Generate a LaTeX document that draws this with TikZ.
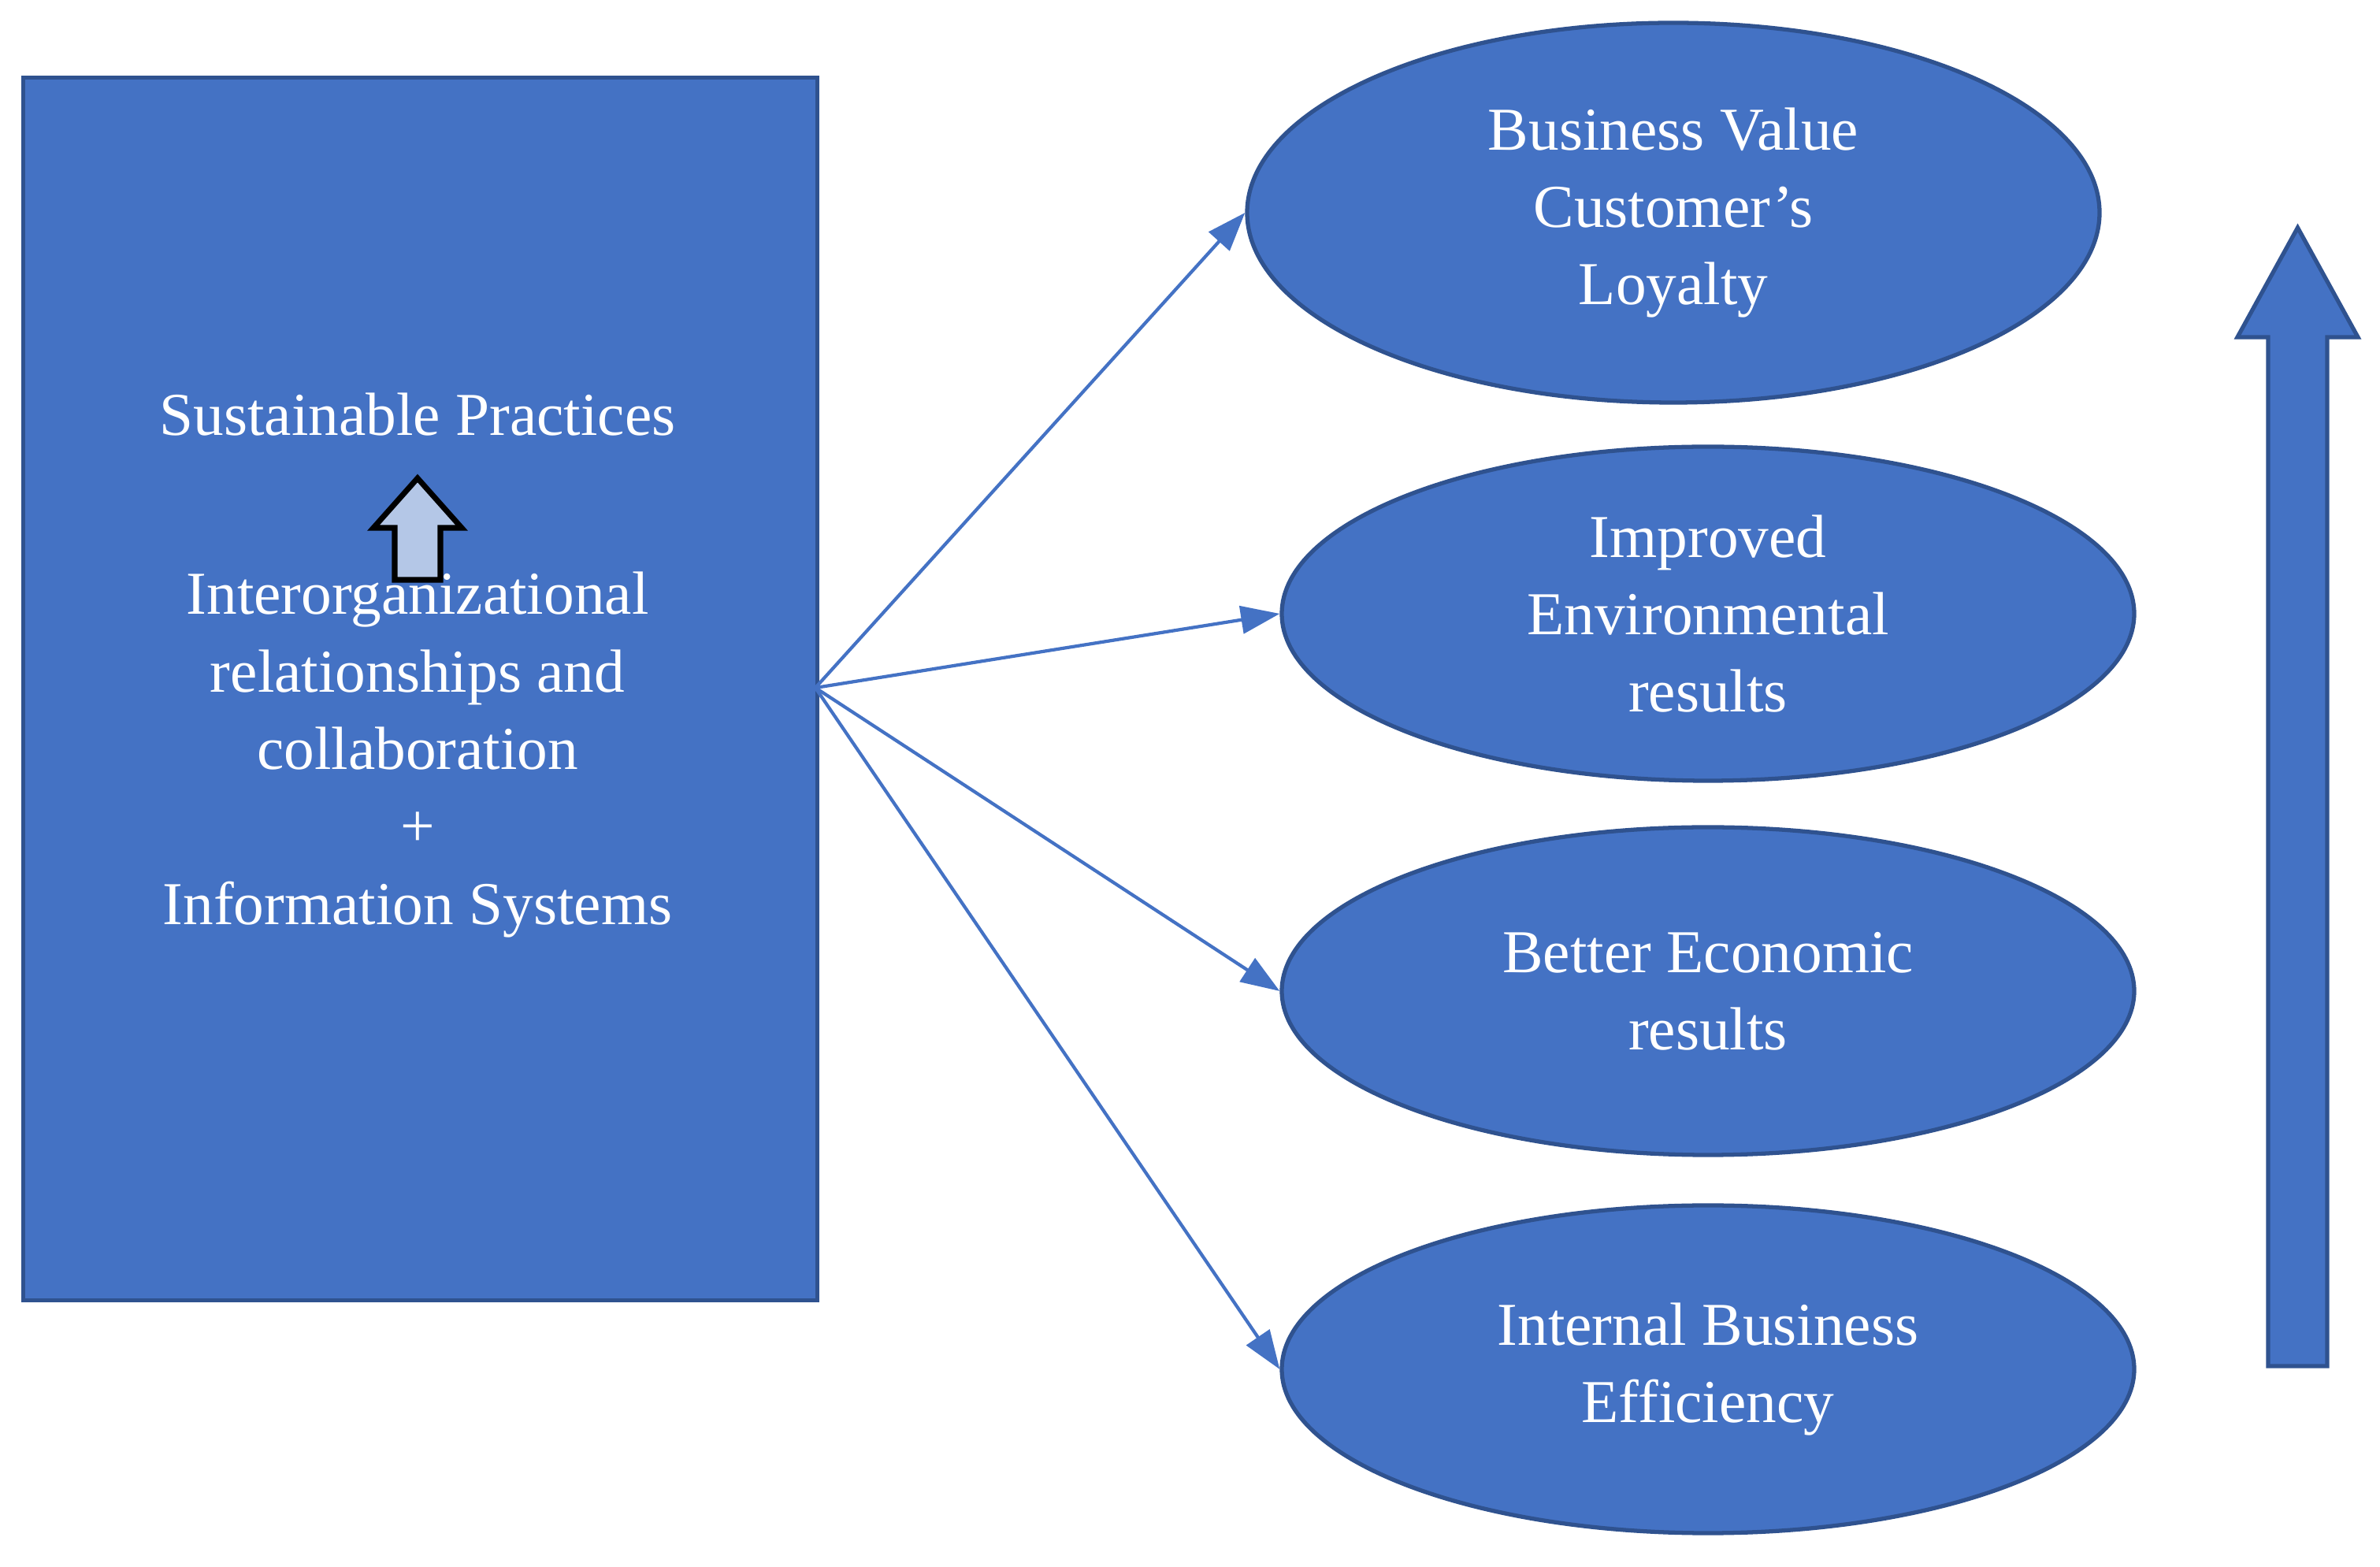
\documentclass[tikz,border=0pt]{standalone}
\usepackage{fontspec}
\setmainfont{Liberation Serif}
\usetikzlibrary{arrows.meta,shapes.geometric}
\definecolor{blu}{HTML}{4472C4}
\definecolor{bord}{HTML}{2F528F}
\definecolor{lightb}{HTML}{B4C7E7}
\begin{document}
\begin{tikzpicture}[
  box/.style={fill=blu,draw=bord,line width=1.5pt},
  ell/.style={ellipse,fill=blu,draw=bord,line width=1.5pt,text=white,align=center,font=\fontsize{22}{28}\selectfont,inner sep=0pt},
  conn/.style={draw=blu,line width=1.2pt,-{Triangle[length=14pt,width=10pt]}}
]
\useasboundingbox (0,0) rectangle (30.21,19.88);
\node[box,minimum width=10.08cm,minimum height=15.52cm,anchor=north west] (rect) at (0.27,18.92) {};
\node[text=white,font=\fontsize{22}{28}\selectfont] (sp) at (5.3,14.62) {Sustainable Practices};
\node[text=white,align=center,font=\fontsize{22}{28}\selectfont] (io) at (5.3,10.3) {Interorganizational\\relationships and\\collaboration\\+\\Information Systems};
\draw[fill=lightb,draw=black,line width=2pt] (5.01,12.52) -- (5.01,13.18) -- (4.74,13.18) -- (5.30,13.81) -- (5.86,13.18) -- (5.59,13.18) -- (5.59,12.52) -- cycle;
\coordinate (src) at (10.35,11.15);
\node[ell,minimum width=10.82cm,minimum height=4.82cm] (e1) at (21.24,17.18) {Business Value\\Customer's\\Loyalty};
\node[ell,minimum width=10.82cm,minimum height=4.24cm] (e2) at (21.68,12.09) {Improved\\Environmental\\results};
\node[ell,minimum width=10.82cm,minimum height=4.16cm] (e3) at (21.68,7.30) {Better Economic\\results};
\node[ell,minimum width=10.82cm,minimum height=4.16cm] (e4) at (21.68,2.50) {Internal Business\\Efficiency};
\draw[conn] (src) -- (e1.west);
\draw[conn] (src) -- (e2.west);
\draw[conn] (src) -- (e3.west);
\draw[conn] (src) -- (e4.west);
\draw[box] (28.79,2.54) -- (28.79,15.60) -- (28.40,15.60) -- (29.165,16.99) -- (29.93,15.60) -- (29.54,15.60) -- (29.54,2.54) -- cycle;
\end{tikzpicture}
\end{document}
